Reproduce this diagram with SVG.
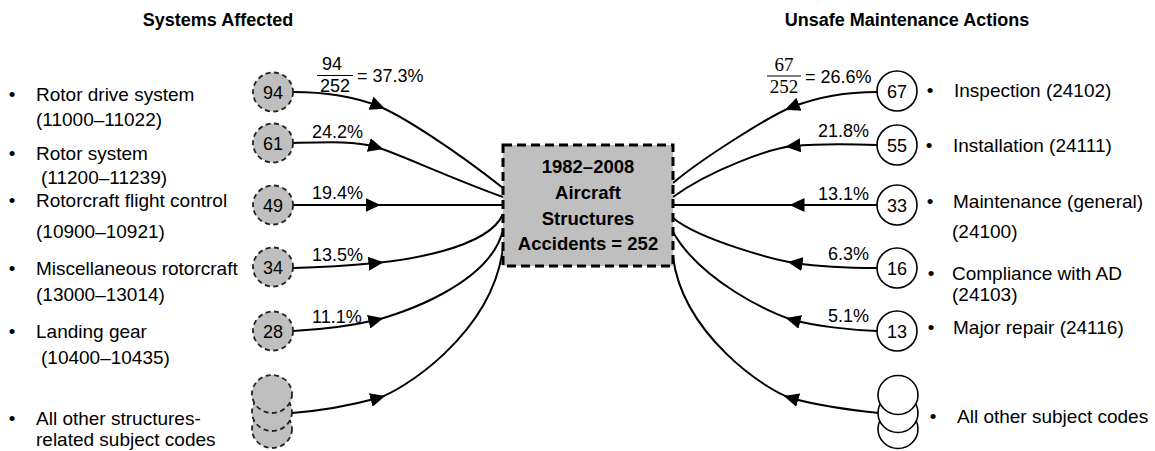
<svg xmlns="http://www.w3.org/2000/svg" width="1155" height="451" viewBox="0 0 1155 451">
  <defs>
    <marker id="arr" viewBox="0 0 15 14" refX="7.5" refY="7" markerWidth="15" markerHeight="14" markerUnits="userSpaceOnUse" orient="auto">
      <path d="M0,0 L15,7 L0,14 Z" fill="#000"/>
    </marker>
    <style>
      text { font-family: "Liberation Sans", Arial, sans-serif; fill: #000; }
      .title { font-size: 18px; font-weight: bold; text-anchor: middle; }
      .lbl { font-size: 19px; }
      .bul { font-size: 19px; text-anchor: middle; }
      .pct { font-size: 18px; }
      .num { font-size: 18px; text-anchor: middle; }
      .frac { font-size: 18px; text-anchor: middle; }
      .fracR { font-family: "Liberation Serif", "Times New Roman", serif; font-size: 19px; text-anchor: middle; }
      .box { font-size: 18.5px; font-weight: bold; text-anchor: middle; }
      .sys { fill: #bfbfbf; stroke: #222; stroke-width: 1.8; stroke-dasharray: 5 3.5; }
      .act { fill: #fff; stroke: #000; stroke-width: 1.6; }
      .conn { fill: none; stroke: #000; stroke-width: 2; marker-mid: url(#arr); }
      .bar { stroke: #000; stroke-width: 1.2; }
    </style>
  </defs>

  <rect width="1155" height="451" fill="#fff"/>

  <!-- column headings -->
  <text class="title" x="218" y="26">Systems Affected</text>
  <text class="title" x="907" y="26">Unsafe Maintenance Actions</text>

  <!-- connectors: every path runs from a count circle into the central box -->
  <g id="connectors">
    <path class="conn" d="M293,92 C330,92 355,97 378,106 S455,150 503,188"/>
    <path class="conn" d="M293,143 C330,142 355,141 376,147 S450,178 503,197"/>
    <path class="conn" d="M293,205 L373,205 L503,205"/>
    <path class="conn" d="M293,268 C330,267 355,265 376,263 S488,250 503,214"/>
    <path class="conn" d="M293,331 C330,329 355,325 376,320 S490,285 503,230"/>
    <path class="conn" d="M292,413 C330,410 356,404 378,398 S492,335 503,248"/>

    <path class="conn" d="M877,92 C840,92 815,98 792,107 S700,160 673,183"/>
    <path class="conn" d="M877,145 C850,144 815,144 793,146 S710,170 673,197"/>
    <path class="conn" d="M877,205 L797,205 L673,205"/>
    <path class="conn" d="M877,268 C850,268 815,266 795,263 S700,240 673,218"/>
    <path class="conn" d="M877,331 C850,330 815,326 793,320 S700,280 673,232"/>
    <path class="conn" d="M879,413 C850,410 815,405 791,398 S683,335 673,257"/>
  </g>

  <!-- central box -->
  <g id="accidents">
    <rect x="503" y="145" width="170" height="121" fill="#bfbfbf" stroke="#000" stroke-width="3" stroke-dasharray="9 5"/>
    <text class="box" x="588" y="173">1982–2008</text>
    <text class="box" x="588" y="199">Aircraft</text>
    <text class="box" x="588" y="224.5">Structures</text>
    <text class="box" x="588" y="250">Accidents = 252</text>
  </g>

  <!-- systems affected (left) -->
  <g id="sys-rotor-drive">
    <ellipse class="sys" cx="273" cy="92" rx="20" ry="19.5"/>
    <text class="num" x="273" y="98.5">94</text>
    <text class="bul" x="12" y="101">•</text>
    <text class="lbl" x="36" y="101">Rotor drive system</text>
    <text class="lbl" x="36" y="126">(11000–11022)</text>
    <text class="frac" x="332" y="70">94</text>
    <line class="bar" x1="317" y1="75.5" x2="353" y2="75.5"/>
    <text class="frac" x="335" y="92">252</text>
    <text class="pct" x="357" y="82">= 37.3%</text>
  </g>
  <g id="sys-rotor">
    <ellipse class="sys" cx="273" cy="143" rx="20" ry="19.5"/>
    <text class="num" x="273" y="149.5">61</text>
    <text class="bul" x="12" y="160">•</text>
    <text class="lbl" x="36" y="160">Rotor system</text>
    <text class="lbl" x="41" y="184">(11200–11239)</text>
    <text class="pct" x="312" y="138">24.2%</text>
  </g>
  <g id="sys-flight-control">
    <ellipse class="sys" cx="273" cy="205" rx="20" ry="19.5"/>
    <text class="num" x="273" y="211.5">49</text>
    <text class="bul" x="12" y="207">•</text>
    <text class="lbl" x="36" y="207">Rotorcraft flight control</text>
    <text class="lbl" x="36" y="238">(10900–10921)</text>
    <text class="pct" x="312" y="199">19.4%</text>
  </g>
  <g id="sys-misc">
    <ellipse class="sys" cx="273" cy="267" rx="20" ry="19.5"/>
    <text class="num" x="273" y="273.5">34</text>
    <text class="bul" x="12" y="275">•</text>
    <text class="lbl" x="36" y="275">Miscellaneous rotorcraft</text>
    <text class="lbl" x="36" y="301">(13000–13014)</text>
    <text class="pct" x="312" y="261">13.5%</text>
  </g>
  <g id="sys-landing-gear">
    <ellipse class="sys" cx="273" cy="331" rx="20" ry="19.5"/>
    <text class="num" x="273" y="337.5">28</text>
    <text class="bul" x="12" y="338">•</text>
    <text class="lbl" x="36" y="338">Landing gear</text>
    <text class="lbl" x="41" y="364">(10400–10435)</text>
    <text class="pct" x="312" y="323">11.1%</text>
  </g>
  <g id="sys-other">
    <ellipse class="sys" cx="272" cy="429" rx="20" ry="19"/>
    <ellipse class="sys" cx="272" cy="412" rx="20" ry="19"/>
    <ellipse class="sys" cx="272" cy="394" rx="20" ry="19"/>
    <text class="bul" x="12" y="425">•</text>
    <text class="lbl" x="36" y="425">All other structures-</text>
    <text class="lbl" x="36" y="446">related subject codes</text>
  </g>

  <!-- unsafe maintenance actions (right) -->
  <g id="act-inspection">
    <ellipse class="act" cx="897" cy="91" rx="20" ry="20"/>
    <text class="num" x="897" y="97.5">67</text>
    <text class="bul" x="930" y="97">•</text>
    <text class="lbl" x="954" y="97">Inspection (24102)</text>
    <text class="fracR" x="784" y="71">67</text>
    <line class="bar" x1="767" y1="76" x2="801" y2="76"/>
    <text class="fracR" x="784" y="93">252</text>
    <text class="pct" x="805" y="83">= 26.6%</text>
  </g>
  <g id="act-installation">
    <ellipse class="act" cx="897" cy="145" rx="20" ry="20"/>
    <text class="num" x="897" y="151.5">55</text>
    <text class="bul" x="929" y="152">•</text>
    <text class="lbl" x="953" y="152">Installation (24111)</text>
    <text class="pct" x="869" y="137" text-anchor="end">21.8%</text>
  </g>
  <g id="act-maintenance">
    <ellipse class="act" cx="897" cy="205" rx="20" ry="20"/>
    <text class="num" x="897" y="211.5">33</text>
    <text class="bul" x="930" y="208">•</text>
    <text class="lbl" x="953" y="208">Maintenance (general)</text>
    <text class="lbl" x="952" y="238">(24100)</text>
    <text class="pct" x="869" y="200" text-anchor="end">13.1%</text>
  </g>
  <g id="act-compliance">
    <ellipse class="act" cx="897" cy="268" rx="20" ry="20"/>
    <text class="num" x="897" y="274.5">16</text>
    <text class="bul" x="931" y="280">•</text>
    <text class="lbl" x="952" y="280">Compliance with AD</text>
    <text class="lbl" x="952" y="301">(24103)</text>
    <text class="pct" x="869" y="260" text-anchor="end">6.3%</text>
  </g>
  <g id="act-major-repair">
    <ellipse class="act" cx="897" cy="331" rx="20" ry="20"/>
    <text class="num" x="897" y="337.5">13</text>
    <text class="bul" x="931" y="334">•</text>
    <text class="lbl" x="953" y="334">Major repair (24116)</text>
    <text class="pct" x="869" y="322" text-anchor="end">5.1%</text>
  </g>
  <g id="act-other">
    <ellipse class="act" cx="898" cy="429" rx="20" ry="19.5"/>
    <ellipse class="act" cx="898" cy="413" rx="20" ry="19.5"/>
    <ellipse class="act" cx="898" cy="395" rx="20" ry="19.5"/>
    <text class="bul" x="933" y="423">•</text>
    <text class="lbl" x="957" y="423">All other subject codes</text>
  </g>
</svg>
